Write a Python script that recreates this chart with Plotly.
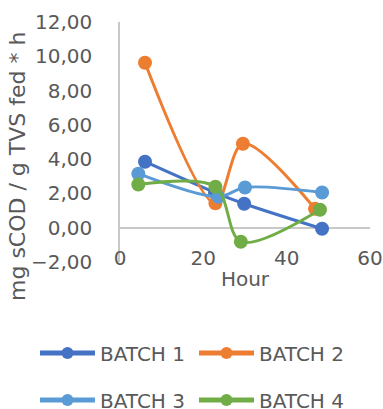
import plotly.graph_objects as go

names = ["BATCH 1", "BATCH 2", "BATCH 3", "BATCH 4"]
colors = ["#4472C4", "#ED7D31", "#5B9BD5", "#70AD47"]
x_b1 = [6.0, 22.8, 29.8, 48.5]
y_b1 = [3.85, 2.05, 1.40, -0.06]
x_b2 = [6.0, 22.9, 29.5, 46.8]
y_b2 = [9.62, 1.42, 4.90, 1.10]
x_b3 = [4.4, 23.6, 30.0, 48.5]
y_b3 = [3.15, 1.80, 2.35, 2.05]
x_b4 = [4.4, 22.9, 29.0, 48.0]
y_b4 = [2.52, 2.39, -0.82, 1.05]
xs = [x_b1, x_b2, x_b3, x_b4]
ys = [y_b1, y_b2, y_b3, y_b4]
x_ticks = [0, 20, 40, 60]
y_ticks = [-2, 0, 2, 4, 6, 8, 10, 12]

FONT = "DejaVu Sans"
GRAY = "#595959"

W, H = 383, 409
L, R, T, B = 120, 13, 22, 147
PW, PH = W - L - R, H - T - B


def px_x(X):
    return (X - L) / PW


def px_y(Y):
    return (H - B - Y) / PH


legend_ids = ["legend", "legend2", "legend3", "legend4"]
legend_pos = [(35, 353), (194, 353), (35, 400), (194, 400)]

fig = go.Figure()
for n, c, x, y, lg in zip(names, colors, xs, ys, legend_ids):
    fig.add_trace(go.Scatter(
        x=x, y=y, name=n, mode="lines+markers",
        line=dict(color=c, width=3, shape="spline", smoothing=0.9),
        marker=dict(color=c, size=14),
        legend=lg,
    ))

legends = {}
for lg, (X, Y) in zip(legend_ids, legend_pos):
    legends[lg] = dict(
        orientation="h", xanchor="left", yanchor="middle",
        x=px_x(X), y=px_y(Y), xref="paper", yref="paper",
        itemwidth=55, itemsizing="constant",
        font=dict(size=20, color=GRAY, family=FONT), bgcolor="rgba(0,0,0,0)",
    )

fig.update_layout(
    width=W, height=H,
    margin=dict(l=L, r=R, t=T, b=B, autoexpand=False),
    paper_bgcolor="white", plot_bgcolor="white",
    separators=", ",
    font=dict(family=FONT, color=GRAY, size=20),
    xaxis=dict(
        range=[0, 60], tickvals=x_ticks, ticktext=[str(v) for v in x_ticks],
        showgrid=False, zeroline=False, showline=False, ticks="",
        anchor="free", position=px_y(244),
        title=dict(text="Hour", standoff=2, font=dict(size=20, color=GRAY)),
        tickfont=dict(size=20, color=GRAY),
    ),
    yaxis=dict(
        range=[-2, 12], tickvals=y_ticks, tickformat=".2f",
        showgrid=False, zeroline=True, zerolinecolor="#C8C8C8", zerolinewidth=1.5,
        showline=True, linecolor="#C8C8C8", linewidth=1.5, ticks="",
        ticklabelstandoff=22,
        tickfont=dict(size=20, color=GRAY),
    ),
    showlegend=True,
    **legends,
)
fig.add_annotation(
    text="mg sCOD / g TVS fed * h", textangle=-90,
    xref="paper", yref="paper", x=px_x(17), y=px_y(167),
    xanchor="center", yanchor="middle", showarrow=False,
    font=dict(size=22, color=GRAY, family=FONT),
)
fig.write_html("out.html")
